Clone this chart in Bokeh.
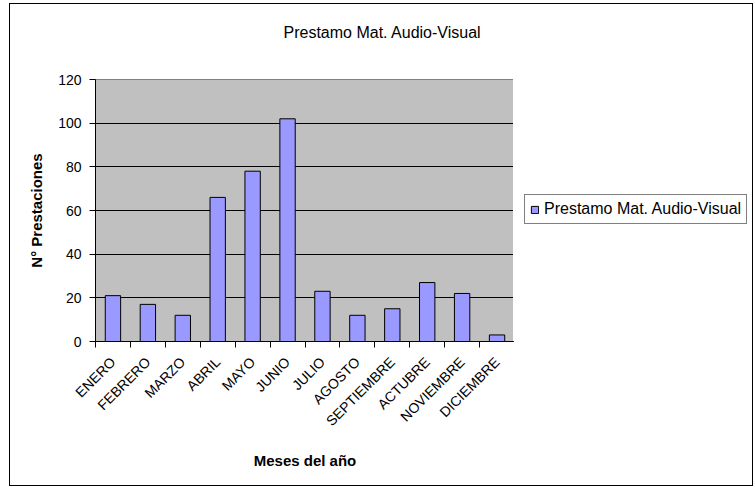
import math
import numpy as np
from bokeh.plotting import figure
from bokeh.layouts import row
from bokeh.models import (FixedTicker, Range1d, Legend, LegendItem, ColumnDataSource, Title)
from bokeh.embed import file_html
from bokeh.resources import INLINE

# ---- data ----
months = ["ENERO", "FEBRERO", "MARZO", "ABRIL", "MAYO", "JUNIO", "JULIO",
          "AGOSTO", "SEPTIEMBRE", "ACTUBRE", "NOVIEMBRE", "DICIEMBRE"]
prestamos = [21, 17, 12, 66, 78, 102, 23, 12, 15, 27, 22, 3]
y_ticks = [0, 20, 40, 60, 80, 100, 120]
series_name = "Prestamo Mat. Audio-Visual"
chart_title = "Prestamo Mat. Audio-Visual"
x_title = "Meses del año"
y_title = "N° Prestaciones"

FONT = "Liberation Sans"
BAR_FILL = "#9999FF"
FRAME_H = 260
TOP = 75
BOTTOM = 146

n = len(months)
centers = [i + 0.5 for i in range(n)]
source = ColumnDataSource(dict(x=centers, top=prestamos, month=months))

p = figure(frame_width=418, frame_height=FRAME_H, output_backend="svg", toolbar_location=None,
           x_range=Range1d(0, n), y_range=Range1d(0, 120),
           min_border_left=85, min_border_right=0, min_border_top=TOP,
           min_border_bottom=BOTTOM)
p.styles = {"border-left": "1px solid black", "border-top": "1px solid black",
            "border-bottom": "1px solid black", "margin-left": "9px", "margin-top": "3px"}

p.background_fill_color = "#C0C0C0"
p.border_fill_color = "white"
p.outline_line_color = "#808080"
p.outline_line_width = 1

r = p.vbar(x="x", top="top", width=0.44, source=source,
           fill_color=BAR_FILL, line_color="black", line_width=1)

# real title is the plot's own title (outermost); a blank spacer sits between it and the frame
p.title.text = chart_title
p.title.align = "left"
p.title.offset = 188
p.title.text_font = FONT
p.title.text_font_size = "16px"
p.title.text_font_style = "normal"
p.title.text_color = "black"
p.add_layout(Title(text=" ", text_font_size="20px"), "above")

# y axis
p.yaxis.ticker = FixedTicker(ticks=y_ticks)
p.yaxis.axis_line_color = "black"
p.yaxis.major_tick_out = 6
p.yaxis.major_tick_in = 0
p.yaxis.minor_tick_line_color = None
p.yaxis.major_label_text_font = FONT
p.yaxis.major_label_text_font_size = "14px"
p.yaxis.major_label_text_color = "black"
p.yaxis.major_label_standoff = 8
p.yaxis.axis_label = y_title
p.yaxis.axis_label_text_font = FONT
p.yaxis.axis_label_text_font_size = "15px"
p.yaxis.axis_label_text_font_style = "bold"
p.yaxis.axis_label_text_color = "black"
p.yaxis.axis_label_standoff = 10

# x axis
p.xaxis.ticker = FixedTicker(ticks=centers, minor_ticks=list(range(n + 1)))
p.xaxis.major_label_overrides = {c: m for c, m in zip(centers, months)}
p.xaxis.major_label_orientation = math.pi / 4
p.xaxis.axis_line_color = "black"
p.xaxis.major_tick_line_color = None
p.xaxis.major_tick_out = 0
p.xaxis.major_tick_in = 0
p.xaxis.minor_tick_line_color = "black"
p.xaxis.minor_tick_out = 6
p.xaxis.minor_tick_in = 0
p.xaxis.major_label_text_font = FONT
p.xaxis.major_label_text_font_size = "14px"
p.xaxis.major_label_text_color = "black"
p.xaxis.major_label_standoff = 12
p.xaxis.axis_label = x_title
p.xaxis.axis_label_text_font = FONT
p.xaxis.axis_label_text_font_size = "15px"
p.xaxis.axis_label_text_font_style = "bold"
p.xaxis.axis_label_text_color = "black"
p.xaxis.axis_label_standoff = 14

# grid
p.xgrid.grid_line_color = None
p.ygrid.ticker = FixedTicker(ticks=y_ticks)
p.ygrid.grid_line_color = "black"
p.ygrid.grid_line_width = 1

# ---- legend panel (second figure, frame aligned with the main one) ----
lg = figure(frame_width=239, frame_height=FRAME_H, output_backend="svg", toolbar_location=None,
            x_range=Range1d(1000, 1001), y_range=Range1d(1000, 1001),
            min_border_left=0, min_border_right=0, min_border_top=TOP,
            min_border_bottom=BOTTOM, x_axis_location=None, y_axis_location=None)
lg.styles = {"border-right": "1px solid black", "border-top": "1px solid black",
             "border-bottom": "1px solid black", "margin-top": "3px"}
lg.grid.visible = False
lg.outline_line_color = None
lg.background_fill_color = "white"
lg.border_fill_color = "white"
# legend key: same series, drawn outside this panel's visible range
key = lg.vbar(x="x", top="top", width=0.44, source=ColumnDataSource(dict(x=centers, top=prestamos)),
              fill_color=BAR_FILL, line_color="black", line_width=1)

legend = Legend(items=[LegendItem(label=series_name, renderers=[key])],
                location=(11, 117), orientation="vertical",
                label_text_font=FONT, label_text_font_size="16px",
                label_text_color="black", glyph_width=9, glyph_height=9,
                label_standoff=5, padding=5, spacing=0, margin=0,
                label_height=18, border_line_color="black", border_line_width=1,
                background_fill_color="white", background_fill_alpha=1.0)
lg.add_layout(legend, "center")

layout = row(p, lg, spacing=0)
open("out.html", "w").write(file_html(layout, INLINE))
